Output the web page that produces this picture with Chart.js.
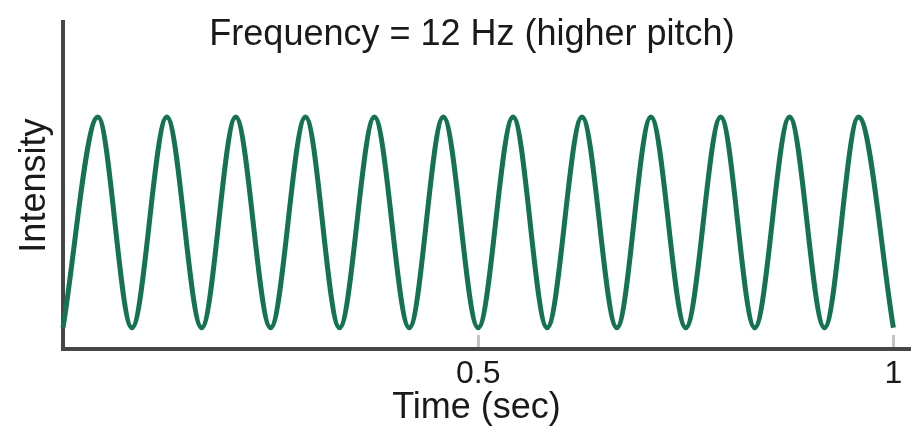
<!DOCTYPE html>
<html>
<head>
<meta charset="utf-8">
<script src="https://cdn.jsdelivr.net/npm/chart.js@4"></script>
<style>
  html, body { margin: 0; padding: 0; background: #fff; }
  #wrap { width: 920px; height: 429px; }
</style>
</head>
<body>
<div id="wrap"><canvas id="wave"></canvas></div>
<script>
// peaks and troughs of the wave (12 cycles in 1 sec)
const timeSec = [0, 0.042, 0.083, 0.125, 0.167, 0.208, 0.25, 0.292, 0.333, 0.375, 0.417, 0.458,
                 0.5, 0.542, 0.583, 0.625, 0.667, 0.708, 0.75, 0.792, 0.833, 0.875, 0.917, 0.958, 1];
const intensity = [0.065, 0.71, 0.065, 0.71, 0.065, 0.71, 0.065, 0.71, 0.065, 0.71, 0.065, 0.71,
                   0.065, 0.71, 0.065, 0.71, 0.065, 0.71, 0.065, 0.71, 0.065, 0.71, 0.065, 0.71, 0.065];
const xTicks = [0.5, 1];
const xTickLabels = ['0.5', '1'];

const titleText = 'Frequency = 12 Hz (higher pitch)';
const textColor = '#1a1a1a';
const axisColor = '#474747';
const waveColor = '#15744f';
const fontFamily = '"Liberation Sans", Arial, sans-serif';

const points = timeSec.map((t, i) => ({ x: t, y: intensity[i] }));

new Chart(document.getElementById('wave').getContext('2d'), {
    type: 'line',
    data: {
        datasets: [{
            data: points,
            borderColor: waveColor,
            borderWidth: 5,
            pointRadius: 0,
            cubicInterpolationMode: 'monotone',
            fill: false,
            clip: false
        }]
    },
    options: {
        responsive: true,
        maintainAspectRatio: false,
        animation: false,
        // left padding pushes the title's centre right, y axis is narrowed to match
        layout: { padding: { left: 34, right: 10 } },
        plugins: {
            legend: { display: false },
            tooltip: { enabled: false },
            title: {
                display: true,
                text: titleText,
                color: textColor,
                font: { family: fontFamily, size: 36, weight: 'normal', lineHeight: 1.2 },
                padding: { top: 13, bottom: -34 }
            }
        },
        scales: {
            x: {
                type: 'linear',
                min: 0,
                max: 1.02,
                // short ticks pointing up into the plot
                grid: {
                    drawOnChartArea: false,
                    tickLength: -14,
                    tickWidth: 3,
                    tickColor: '#c4c4c4'
                },
                border: { color: axisColor, width: 4 },
                afterBuildTicks: (scale) => {
                    scale.ticks = xTicks.map(v => ({ value: v }));
                },
                afterFit: (scale) => {
                    scale.height = 80;
                    scale.paddingLeft = 0;
                    scale.paddingRight = 0;
                },
                ticks: {
                    color: textColor,
                    padding: 20,
                    maxRotation: 0,
                    font: { family: fontFamily, size: 32 },
                    callback: (v) => xTickLabels[xTicks.indexOf(v)]
                },
                title: {
                    display: true,
                    text: 'Time (sec)\u00a0\u00a0',
                    color: textColor,
                    font: { family: fontFamily, size: 36, lineHeight: 1 },
                    padding: { top: 0, bottom: 3 }
                }
            },
            y: {
                min: 0,
                max: 1,
                grid: { display: false },
                border: { color: axisColor, width: 4 },
                ticks: { display: false },
                afterFit: (scale) => { scale.width = 29; },
                title: {
                    display: true,
                    text: 'Intensity',
                    color: textColor,
                    font: { family: fontFamily, size: 36, lineHeight: 1 },
                    padding: { top: -17, bottom: 0 }
                }
            }
        }
    }
});
</script>
</body>
</html>
